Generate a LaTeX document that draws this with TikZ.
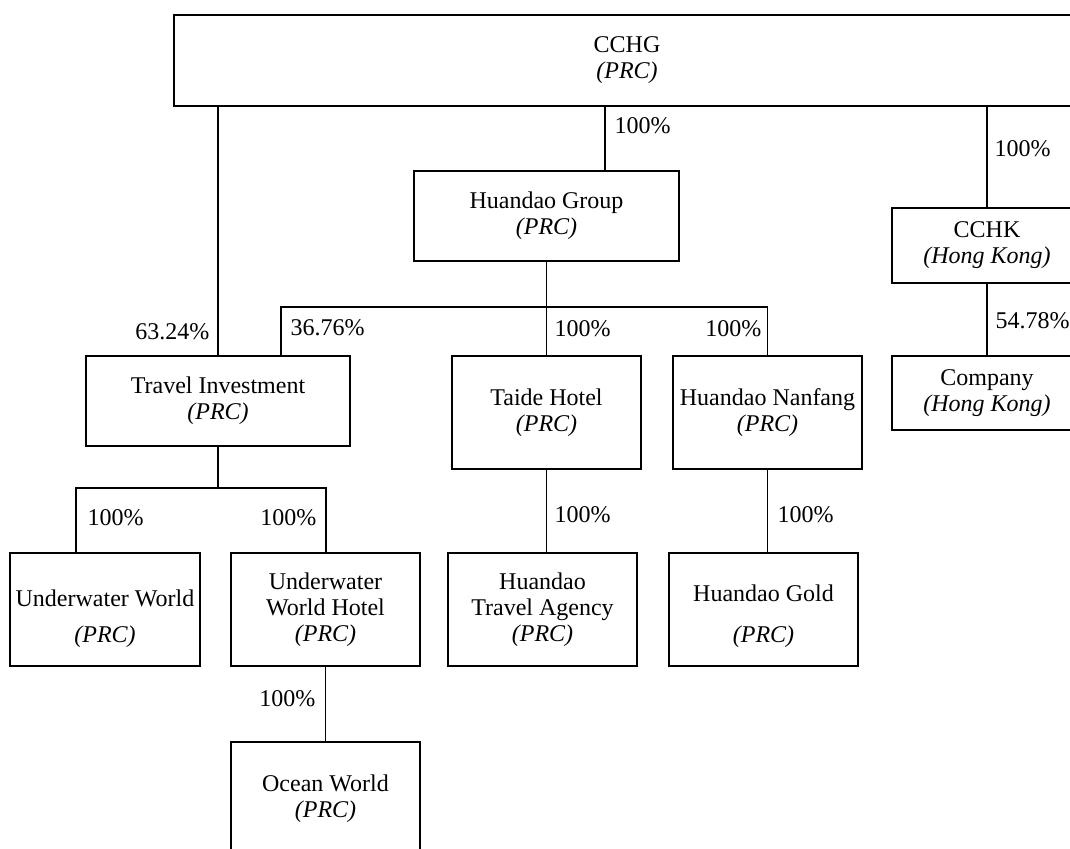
\documentclass[tikz,border=0pt]{standalone}
\usepackage{fontspec}
\setmainfont{Liberation Serif}
\begin{document}
\begin{tikzpicture}[x=1pt,y=-1pt, line width=1.2pt,
  orgbox/.style={draw, rectangle, align=center, inner sep=0pt, font=\fontsize{24}{26}\selectfont},
  pct/.style={inner sep=0pt, font=\fontsize{24}{26}\selectfont}]
\useasboundingbox (0,0) rectangle (1070,848);
\clip (0,0) rectangle (1070,848);
% boxes
\node[orgbox, minimum width=906pt, minimum height=91pt] (cchg) at (627,60.5) {CCHG\\\textit{(PRC)}};
\node[orgbox, minimum width=265pt, minimum height=90pt] (hg) at (546.5,216) {Huandao Group\\\textit{(PRC)}};
\node[orgbox, minimum width=190pt, minimum height=75pt] (cchk) at (987,245.5) {CCHK\\\textit{(Hong Kong)}};
\node[orgbox, minimum width=190pt, minimum height=74pt] (company) at (987,393) {Company\\\textit{(Hong Kong)}};
\node[orgbox, minimum width=264pt, minimum height=90pt] (ti) at (218,401) {Travel Investment\\\textit{(PRC)}};
\node[orgbox, minimum width=189pt, minimum height=113pt] (taide) at (546.5,412.5) {Taide Hotel\\\textit{(PRC)}};
\node[orgbox, minimum width=189pt, minimum height=113pt] (nanfang) at (767.5,412.5) {Huandao Nanfang\\\textit{(PRC)}};
\node[orgbox, minimum width=190pt, minimum height=113pt] (uw) at (105,609.5) {\rule{0pt}{36pt}Underwater World\\[10pt]\textit{(PRC)}};
\node[orgbox, minimum width=189pt, minimum height=113pt] (uwh) at (325.5,609.5) {Underwater\\World Hotel\\\textit{(PRC)}};
\node[orgbox, minimum width=189pt, minimum height=113pt] (hta) at (542.5,609.5) {Huandao\\Travel Agency\\\textit{(PRC)}};
\node[orgbox, minimum width=189pt, minimum height=113pt] (gold) at (763.5,609.5) {\rule{0pt}{31pt}Huandao Gold\\[15pt]\textit{(PRC)}};
\node[orgbox, minimum width=189pt, minimum height=113pt] (ocean) at (325.5,798.5) {Ocean World\\\textit{(PRC)}};
% junction coordinates
\coordinate (hgdrop) at (605,0);
\coordinate (tij) at (281,307);
\coordinate (tibus) at (0,488);
\coordinate (uwx) at (76,0);
\coordinate (uwhx) at (326,0);
% connectors
\draw (cchg.south -| ti.north) -- (ti.north);
\draw (cchg.south -| hgdrop) -- (hg.north -| hgdrop);
\draw (cchg.south -| cchk.north) -- (cchk.north);
\draw (cchk.south) -- (company.north);
\draw (hg.south) -- (taide.north);
\draw (ti.north -| tij) -- (tij) -- (tij -| nanfang.north) -- (nanfang.north);
\draw (ti.south) -- (ti.south |- tibus);
\draw (uw.north -| uwx) -- (uwx |- tibus) -- (uwhx |- tibus) -- (uwh.north -| uwhx);
\draw (taide.south) -- (hta.north -| taide.south);
\draw (nanfang.south) -- (gold.north -| nanfang.south);
\draw (uwh.south) -- (ocean.north);
% percentage labels
\node[pct, anchor=base east] (l1) at (210,339) {63.24\%};
\node[pct, anchor=base west] (l2) at (614,133) {100\%};
\node[pct, anchor=base west] (l3) at (994,156) {100\%};
\node[pct, anchor=base west] (l4) at (290,335) {36.76\%};
\node[pct, anchor=base west] (l5) at (554,336) {100\%};
\node[pct, anchor=base east] (l6) at (762,336) {100\%};
\node[pct, anchor=base west] (l7) at (995,328) {54.78\%};
\node[pct, anchor=base west] (l8) at (87,525) {100\%};
\node[pct, anchor=base east] (l9) at (317,525) {100\%};
\node[pct, anchor=base west] (l10) at (554,522) {100\%};
\node[pct, anchor=base west] (l11) at (777,522) {100\%};
\node[pct, anchor=base east] (l12) at (316,706) {100\%};
\end{tikzpicture}
\end{document}
